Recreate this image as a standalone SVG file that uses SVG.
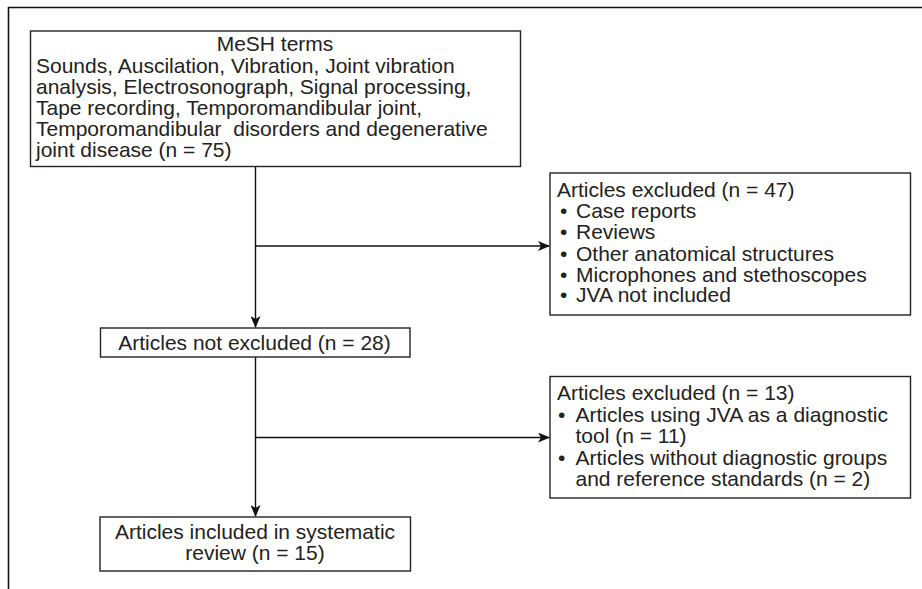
<svg xmlns="http://www.w3.org/2000/svg" width="922" height="589" viewBox="0 0 922 589">
<style>
.box{fill:#fff;stroke:#222;stroke-width:1.4}
.t{font-family:"Liberation Sans",Arial,sans-serif;font-size:21px;fill:#222}
.c{text-anchor:middle}
.ln{fill:none;stroke:#111;stroke-width:1.4}
</style>
<defs>
<marker id="ah" markerWidth="12" markerHeight="10" refX="11" refY="5" orient="auto" markerUnits="userSpaceOnUse">
<path d="M0,0 L12,5 L0,10 L3,5 Z" fill="#111"/>
</marker>
</defs>
<rect width="922" height="589" fill="#fff"/>
<g id="frame">
<path d="M8.5,589 V7.5 H922" fill="none" stroke="#111" stroke-width="1.6"/>
</g>
<g id="connectors">
<path class="ln" d="M255.5,166.5 V327" marker-end="url(#ah)"/>
<path class="ln" d="M255.5,246 H549" marker-end="url(#ah)"/>
<path class="ln" d="M255.5,357 V516" marker-end="url(#ah)"/>
<path class="ln" d="M255.5,437.5 H549" marker-end="url(#ah)"/>
</g>
<g id="mesh">
<rect class="box" x="30.5" y="31" width="490" height="135.5"/>
<text class="t c" x="275" y="51">MeSH terms</text>
<text class="t" x="36" y="72.5">Sounds, Auscilation, Vibration, Joint vibration</text>
<text class="t" x="36" y="94">analysis, Electrosonograph, Signal processing,</text>
<text class="t" x="36" y="115">Tape recording, Temporomandibular joint,</text>
<text class="t" x="36" y="136" xml:space="preserve">Temporomandibular  disorders and degenerative</text>
<text class="t" x="36" y="157">joint disease (n = 75)</text>
</g>
<g id="excluded1">
<rect class="box" x="550" y="173" width="360.5" height="142"/>
<text class="t" x="557" y="197">Articles excluded (n = 47)</text>
<text class="t" x="560" y="218">•</text><text class="t" x="576" y="218">Case reports</text>
<text class="t" x="560" y="239">•</text><text class="t" x="576" y="239">Reviews</text>
<text class="t" x="560" y="260.5">•</text><text class="t" x="576" y="260.5">Other anatomical structures</text>
<text class="t" x="560" y="281.5">•</text><text class="t" x="576" y="281.5">Microphones and stethoscopes</text>
<text class="t" x="560" y="302">•</text><text class="t" x="576" y="302">JVA not included</text>
</g>
<g id="notexcluded">
<rect class="box" x="100.5" y="328" width="309.5" height="29"/>
<text class="t c" x="254.5" y="349.5">Articles not excluded (n = 28)</text>
</g>
<g id="excluded2">
<rect class="box" x="550" y="376.5" width="360.5" height="121.5"/>
<text class="t" x="557" y="400">Articles excluded (n = 13)</text>
<text class="t" x="558" y="421.5">•</text><text class="t" x="575.5" y="421.5">Articles using JVA as a diagnostic</text>
<text class="t" x="575.5" y="442.5">tool (n = 11)</text>
<text class="t" x="558" y="464.5">•</text><text class="t" x="575.5" y="464.5">Articles without diagnostic groups</text>
<text class="t" x="575.5" y="485.5">and reference standards (n = 2)</text>
</g>
<g id="included">
<rect class="box" x="100" y="517" width="310.5" height="54"/>
<text class="t c" x="255" y="538.5">Articles included in systematic</text>
<text class="t c" x="255" y="559.5">review (n = 15)</text>
</g>
</svg>
